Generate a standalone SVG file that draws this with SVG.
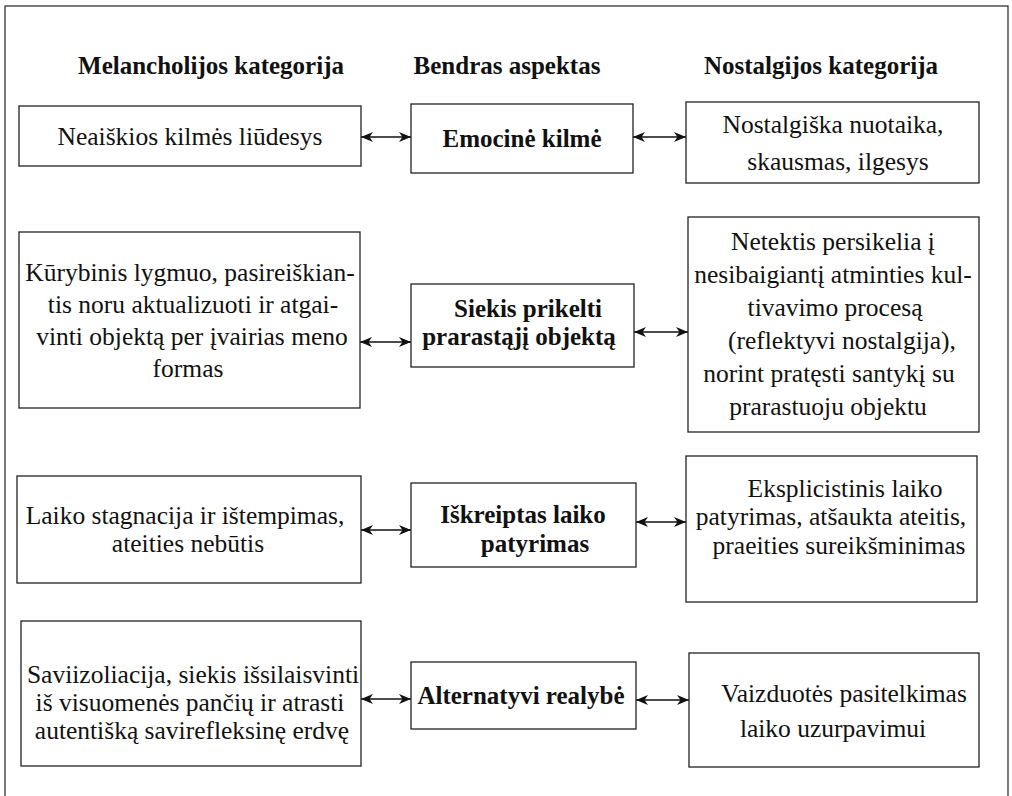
<svg xmlns="http://www.w3.org/2000/svg" width="1012" height="796" viewBox="0 0 1012 796">
<style>
text{font-family:"Liberation Serif","Times New Roman",serif;font-size:25.5px;fill:#111;text-anchor:middle}
.h,.b{font-size:25px;font-weight:bold}
.box{fill:#fff;stroke:#222;stroke-width:1.3}
.c{stroke:#111;stroke-width:1.6;fill:none;marker-start:url(#ah);marker-end:url(#ah)}
</style>
<defs>
<marker id="ah" markerUnits="userSpaceOnUse" markerWidth="13" markerHeight="10" refX="12" refY="5" orient="auto-start-reverse">
<path d="M0,0 L12,5 L0,10 L3.5,5 Z" fill="#111"/>
</marker>
</defs>
<rect x="5" y="6" width="1003" height="800" fill="#fff" stroke="#222" stroke-width="1.2"/>
<g id="headers">
<text class="h" x="211" y="74">Melancholijos kategorija</text>
<text class="h" x="507" y="74">Bendras aspektas</text>
<text class="h" x="821" y="74">Nostalgijos kategorija</text>
</g>
<g id="connectors">
<line class="c" x1="361" y1="137" x2="411" y2="137"/>
<line class="c" x1="633" y1="137" x2="686" y2="137"/>
<line class="c" x1="360" y1="342" x2="411" y2="342"/>
<line class="c" x1="634" y1="332" x2="688" y2="332"/>
<line class="c" x1="361" y1="530" x2="411" y2="530"/>
<line class="c" x1="636" y1="522" x2="686" y2="522"/>
<line class="c" x1="361" y1="699" x2="411" y2="699"/>
<line class="c" x1="636" y1="700" x2="689" y2="700"/>
</g>
<g id="m1">
<rect class="box" x="19" y="106" width="342" height="60"/>
<text x="190" y="145">Neaiškios kilmės liūdesys</text>
</g>
<g id="a1">
<rect class="box" x="411" y="104" width="222" height="69"/>
<text class="b" x="522" y="147">Emocinė kilmė</text>
</g>
<g id="n1">
<rect class="box" x="686" y="102" width="293" height="81"/>
<text x="833" y="133">Nostalgiška nuotaika,</text>
<text x="838" y="170">skausmas, ilgesys</text>
</g>
<g id="m2">
<rect class="box" x="19" y="232" width="341" height="176"/>
<text x="190" y="281">Kūrybinis lygmuo, pasireiškian-</text>
<text x="193" y="313">tis noru aktualizuoti ir atgai-</text>
<text x="192" y="345">vinti objektą per įvairias meno</text>
<text x="188" y="377">formas</text>
</g>
<g id="a2">
<rect class="box" x="411" y="284" width="223" height="83"/>
<text class="b" x="528" y="317">Siekis prikelti</text>
<text class="b" x="519" y="345">prarastąjį objektą</text>
</g>
<g id="n2">
<rect class="box" x="688" y="217" width="291" height="215"/>
<text x="833" y="250">Netektis persikelia į</text>
<text x="833" y="283">nesibaigiantį atminties kul-</text>
<text x="835" y="316">tivavimo procesą</text>
<text x="842" y="349">(reflektyvi nostalgija),</text>
<text x="829" y="382">norint pratęsti santykį su</text>
<text x="828" y="415">prarastuoju objektu</text>
</g>
<g id="m3">
<rect class="box" x="17" y="476" width="344" height="107"/>
<text x="185" y="524">Laiko stagnacija ir ištempimas,</text>
<text x="188" y="552">ateities nebūtis</text>
</g>
<g id="a3">
<rect class="box" x="411" y="483" width="225" height="84"/>
<text class="b" x="523" y="523">Iškreiptas laiko</text>
<text class="b" x="535" y="552">patyrimas</text>
</g>
<g id="n3">
<rect class="box" x="686" y="456" width="291" height="146"/>
<text x="845" y="497">Eksplicistinis laiko</text>
<text x="831" y="525">patyrimas, atšaukta ateitis,</text>
<text x="839" y="554">praeities sureikšminimas</text>
</g>
<g id="m4">
<rect class="box" x="21" y="621" width="340" height="145"/>
<text x="193" y="683">Saviizoliacija, siekis išsilaisvinti</text>
<text x="190" y="711">iš visuomenės pančių ir atrasti</text>
<text x="192" y="739">autentišką savirefleksinę erdvę</text>
</g>
<g id="a4">
<rect class="box" x="411" y="662" width="225" height="67"/>
<text class="b" x="521" y="704">Alternatyvi realybė</text>
</g>
<g id="n4">
<rect class="box" x="689" y="653" width="290" height="114"/>
<text x="844" y="702">Vaizduotės pasitelkimas</text>
<text x="833" y="737">laiko uzurpavimui</text>
</g>
</svg>
